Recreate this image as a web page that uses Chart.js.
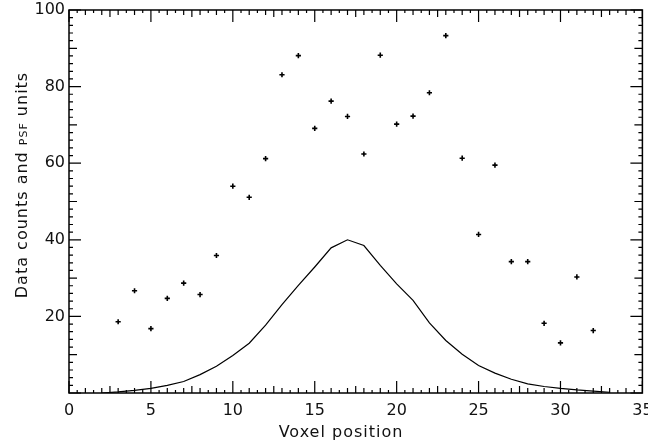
<!DOCTYPE html>
<html>
<head>
<meta charset="utf-8">
<script src="https://cdn.jsdelivr.net/npm/chart.js@4/dist/chart.umd.min.js"></script>
<style>
html,body{margin:0;padding:0;background:#fff;}
canvas{display:block;}
</style>
</head>
<body>
<canvas id="c" width="648" height="444"></canvas>
<script>
// Data counts (voxel position, value)
const countX = [3,4,5,6,7,8,9,10,11,12,13,14,15,16,17,18,19,20,21,22,23,24,25,26,27,28,29,30,31,32];
const countY = [18.6,26.7,16.8,24.7,28.7,25.7,35.9,54.0,51.1,61.2,83.1,88.1,69.1,76.2,72.2,62.4,88.2,70.2,72.3,78.4,93.3,61.3,41.4,59.5,34.3,34.3,18.2,13.1,30.3,16.3];
// PSF curve
const psfX = [2,3,4,5,6,7,8,9,10,11,12,13,14,15,16,17,18,19,20,21,22,23,24,25,26,27,28,29,30,31,32,33];
const psfY = [0.0,0.3,0.7,1.2,2.0,3.0,4.8,7.0,9.8,13.0,17.7,23.1,28.1,32.9,37.9,40.0,38.5,33.3,28.5,24.2,18.3,13.7,10.1,7.2,5.2,3.6,2.4,1.7,1.2,0.8,0.5,0.2];
const xTickLabels = ['0','5','10','15','20','25','30','35'];
const yTickLabels = ['','20','40','60','80','100'];

const FONT = '"DejaVu Sans", sans-serif';

const framePlugin = {
  id: 'frame',
  afterDraw(chart) {
    const ctx = chart.ctx;
    const xs = chart.scales.x, ys = chart.scales.y;
    const a = chart.chartArea;
    ctx.save();
    ctx.strokeStyle = '#000';
    ctx.lineWidth = 1.5;
    ctx.strokeRect(a.left, a.top, a.right - a.left, a.bottom - a.top);
    ctx.lineWidth = 1.2;
    // x ticks every 0.5 (inward, bottom & top)
    for (let i = 0; i <= 70; i++) {
      const v = i / 2;
      const px = xs.getPixelForValue(v);
      let len = 3;
      if (v % 5 === 0) len = 12; else if (v % 2.5 === 0) len = 7; else if (v % 1 === 0) len = 5;
      ctx.beginPath();
      ctx.moveTo(px, a.bottom); ctx.lineTo(px, a.bottom - len);
      ctx.moveTo(px, a.top); ctx.lineTo(px, a.top + len);
      ctx.stroke();
    }
    // y ticks every 2
    for (let v = 0; v <= 100; v += 2) {
      const py = ys.getPixelForValue(v);
      let len = 4;
      if (v % 20 === 0) len = 12; else if (v % 10 === 0) len = 8;
      ctx.beginPath();
      ctx.moveTo(a.left, py); ctx.lineTo(a.left + len, py);
      ctx.moveTo(a.right, py); ctx.lineTo(a.right - len, py);
      ctx.stroke();
    }
    ctx.restore();

    // y-axis title with small "PSF"
    ctx.save();
    ctx.fillStyle = '#111';
    ctx.textBaseline = 'alphabetic';
    try { ctx.letterSpacing = '1px'; } catch (e) {}
    ctx.translate(21, 185);
    ctx.rotate(-Math.PI / 2);
    const parts = [['Data counts and ', '16px ' + FONT], ['PSF', '11px ' + FONT], [' units', '16px ' + FONT]];
    let total = 0;
    parts.forEach(p => { ctx.font = p[1]; total += ctx.measureText(p[0]).width; });
    let x0 = -total / 2;
    ctx.textAlign = 'left';
    parts.forEach(p => {
      ctx.font = p[1];
      ctx.fillText(p[0], x0, 6);
      x0 += ctx.measureText(p[0]).width;
    });
    ctx.restore();

    // x-axis title
    ctx.save();
    ctx.fillStyle = '#111';
    ctx.font = '16px ' + FONT;
    try { ctx.letterSpacing = '1px'; } catch (e) {}
    ctx.textAlign = 'center';
    ctx.textBaseline = 'middle';
    ctx.fillText('Voxel position', 341, 433);
    ctx.restore();
  }
};

new Chart(document.getElementById('c'), {
  type: 'scatter',
  data: {
    datasets: [
      {
        label: 'PSF',
        data: psfX.map((x, i) => ({x, y: psfY[i]})),
        showLine: true,
        borderColor: '#000',
        borderWidth: 1.2,
        pointRadius: 0,
        tension: 0
      },
      {
        label: 'Data counts',
        data: countX.map((x, i) => ({x, y: countY[i]})),
        showLine: false,
        pointStyle: 'cross',
        pointRadius: 2.6,
        borderColor: '#000',
        backgroundColor: '#000',
        pointBorderWidth: 1.6
      }
    ]
  },
  options: {
    responsive: false,
    animation: false,
    layout: { padding: { top: 10, right: 2, left: 0, bottom: 0 } },
    plugins: { legend: { display: false }, tooltip: { enabled: false }, title: { display: false } },
    scales: {
      x: {
        type: 'linear', min: 0, max: 35,
        grid: { display: false, drawTicks: false },
        border: { display: false },
        ticks: {
          stepSize: 5, padding: 8, color: '#111',
          font: { family: FONT, size: 16 },
          callback: (v) => xTickLabels[Math.round(v / 5)]
        },
        afterFit: (s) => { s.height = 51; s.paddingLeft = 0; s.paddingRight = 0; }
      },
      y: {
        type: 'linear', min: 0, max: 100,
        grid: { display: false, drawTicks: false },
        border: { display: false },
        ticks: {
          stepSize: 20, padding: 4, color: '#111',
          font: { family: FONT, size: 16 },
          callback: (v) => yTickLabels[Math.round(v / 20)]
        },
        afterFit: (s) => { s.width = 69; s.paddingTop = 0; s.paddingBottom = 0; }
      }
    }
  },
  plugins: [framePlugin]
});
</script>
</body>
</html>
